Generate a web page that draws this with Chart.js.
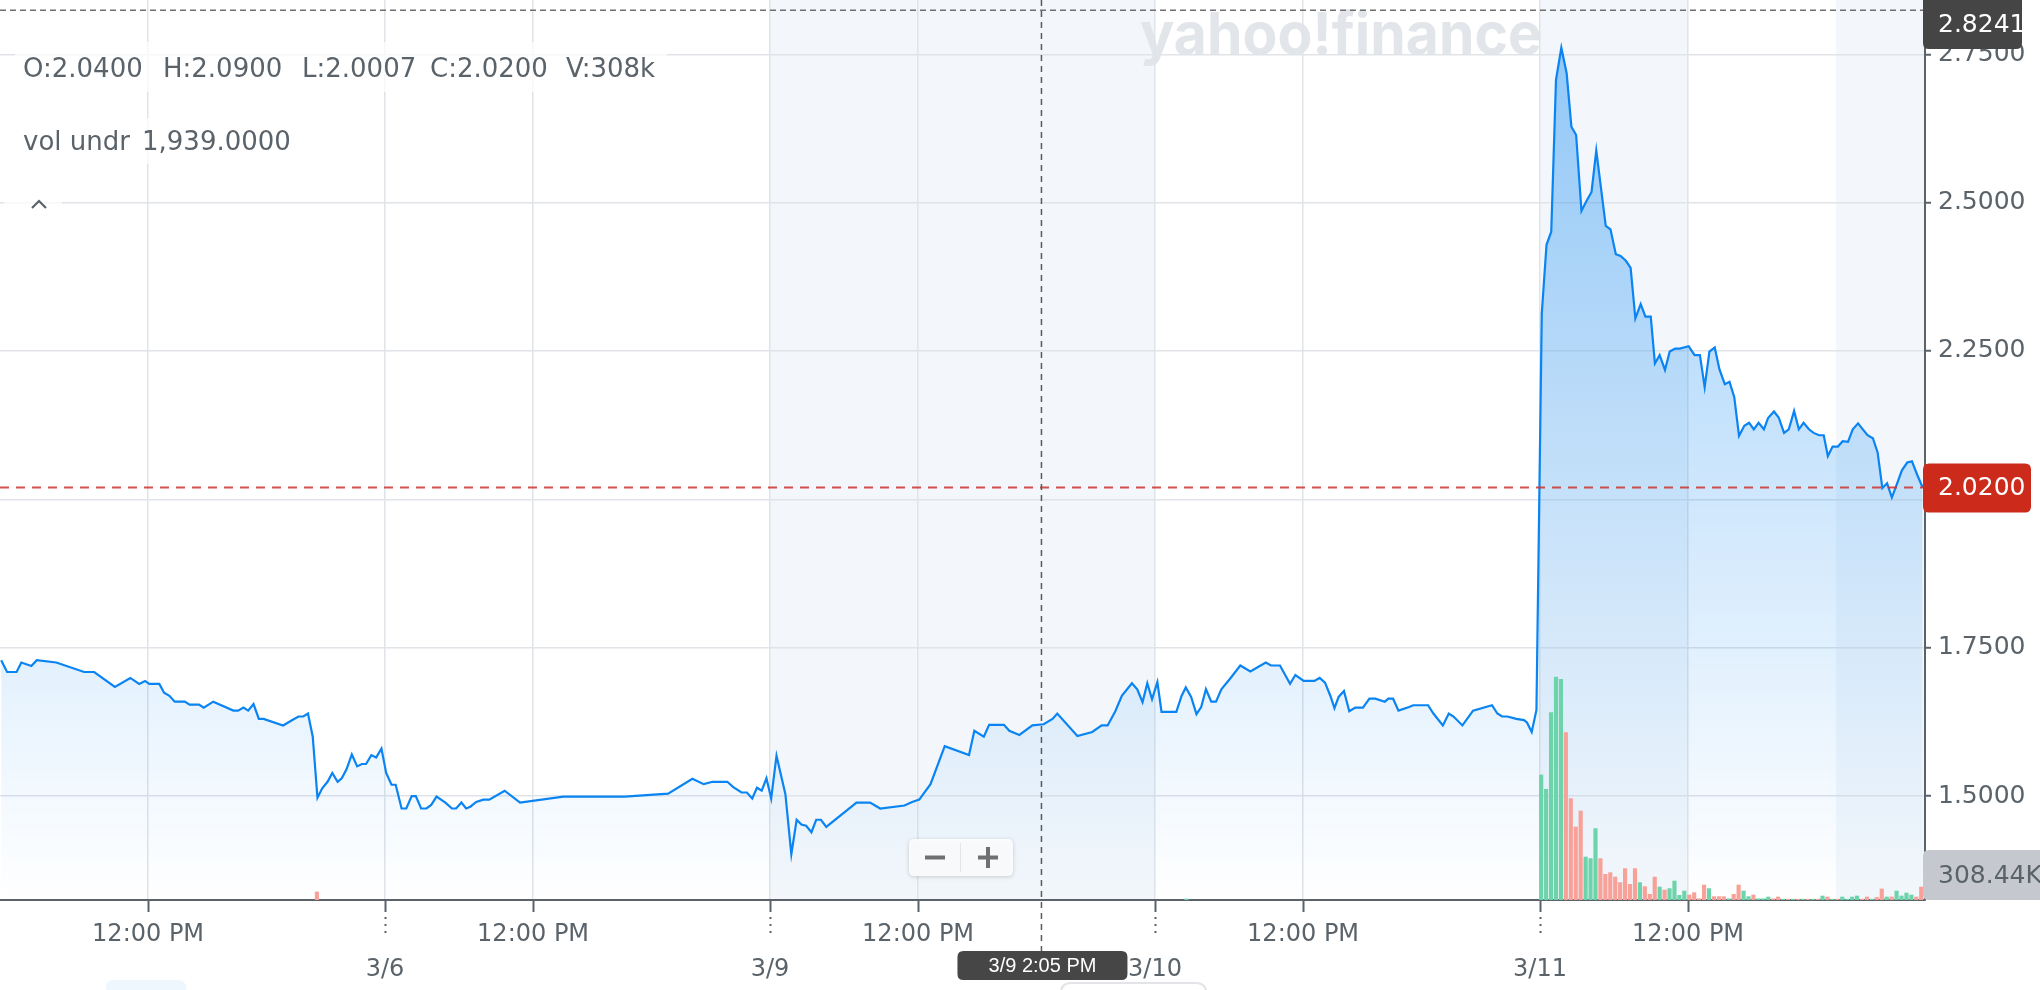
<!DOCTYPE html>
<html>
<head>
<meta charset="utf-8">
<title>Intraday price chart</title>
<script src="https://cdn.jsdelivr.net/npm/chart.js@4.4.1/dist/chart.umd.min.js"></script>
<style>
  html, body { margin: 0; padding: 0; background: #fff; }
  #wrap { width: 2040px; height: 990px; }
</style>
</head>
<body>
<div id="wrap"><canvas id="chart" width="2040" height="990"></canvas></div>
<script>
// Time axis = trading hours since the 3/5 open (9:30 -> 16:00 = 6.5h per day)

// Price line (hours, price)
const priceHours = [
  0.02, 0.12, 0.28, 0.36, 0.53, 0.62, 0.95, 1.42, 1.59, 1.94,
  2.20, 2.35, 2.45, 2.52, 2.69, 2.77, 2.86, 2.95, 3.12, 3.20,
  3.36, 3.44, 3.60, 3.94, 4.02, 4.11, 4.19, 4.28, 4.37, 4.45,
  4.78, 4.95, 5.04, 5.12, 5.20, 5.28, 5.36, 5.44, 5.53, 5.61,
  5.70, 5.77, 5.85, 5.94, 6.03, 6.11, 6.18, 6.27, 6.35, 6.44,
  6.52, 6.61, 6.68, 6.78, 6.86, 6.95, 7.02, 7.11, 7.20, 7.28,
  7.37, 7.52, 7.63, 7.70, 7.79, 7.87, 7.94, 8.04, 8.16, 8.26,
  8.52, 8.78, 9.51, 10.55, 11.28, 11.69, 11.88, 12.03, 12.28, 12.38,
  12.52, 12.61, 12.70, 12.78, 12.86, 12.94, 13.02, 13.11, 13.26, 13.36,
  13.45, 13.53, 13.61, 13.70, 13.78, 13.86, 13.95, 14.46, 14.69, 14.86,
  15.27, 15.40, 15.52, 15.71, 15.95, 16.36, 16.45, 16.61, 16.70, 16.95,
  17.04, 17.21, 17.43, 17.62, 17.77, 17.85, 18.19, 18.44, 18.60, 18.70,
  18.83, 18.94, 19.11, 19.20, 19.29, 19.37, 19.45, 19.54, 19.61, 19.86,
  19.95, 20.02, 20.11, 20.20, 20.28, 20.36, 20.45, 20.53, 20.62, 20.77,
  20.94, 21.11, 21.37, 21.46, 21.61, 21.78, 21.87, 22.01, 22.19, 22.28,
  22.37, 22.46, 22.53, 22.60, 22.69, 22.78, 22.88, 23.01, 23.12, 23.22,
  23.38, 23.44, 23.52, 23.61, 23.79, 23.86, 24.11, 24.20, 24.36, 24.46,
  24.54, 24.69, 24.87, 25.19, 25.28, 25.36, 25.45, 25.60, 25.73, 25.78,
  25.86, 25.94, 26.03, 26.11, 26.19, 26.27, 26.36, 26.45, 26.53, 26.61,
  26.70, 26.78, 26.87, 26.95, 27.11, 27.19, 27.28, 27.36, 27.45, 27.53,
  27.61, 27.70, 27.78, 27.87, 27.94, 28.02, 28.11, 28.19, 28.28, 28.36,
  28.51, 28.61, 28.70, 28.78, 28.86, 28.95, 29.03, 29.12, 29.20, 29.28,
  29.36, 29.45, 29.53, 29.61, 29.69, 29.78, 29.85, 29.95, 30.03, 30.12,
  30.20, 30.29, 30.37, 30.45, 30.54, 30.62, 30.71, 30.79, 30.86, 30.94,
  31.03, 31.11, 31.20, 31.28, 31.37, 31.45, 31.53, 31.62, 31.70, 31.78,
  31.86, 31.94, 32.03, 32.11, 32.20, 32.28, 32.37, 32.46
];
const priceValues = [
  1.729, 1.709, 1.709, 1.725, 1.719, 1.729, 1.725, 1.709, 1.709, 1.684,
  1.699, 1.689, 1.694, 1.689, 1.689, 1.674, 1.669, 1.659, 1.659, 1.654,
  1.654, 1.649, 1.659, 1.644, 1.644, 1.649, 1.644, 1.655, 1.630, 1.630,
  1.619, 1.629, 1.634, 1.634, 1.639, 1.600, 1.497, 1.513, 1.524, 1.539,
  1.524, 1.530, 1.545, 1.570, 1.550, 1.554, 1.554, 1.569, 1.565, 1.580,
  1.539, 1.519, 1.519, 1.479, 1.479, 1.500, 1.500, 1.479, 1.479, 1.485,
  1.499, 1.489, 1.479, 1.479, 1.489, 1.479, 1.482, 1.490, 1.494, 1.494,
  1.509, 1.489, 1.499, 1.499, 1.504, 1.529, 1.520, 1.524, 1.524, 1.515,
  1.506, 1.506, 1.496, 1.514, 1.509, 1.530, 1.496, 1.568, 1.503, 1.402,
  1.460, 1.452, 1.450, 1.439, 1.460, 1.460, 1.448, 1.489, 1.489, 1.479,
  1.484, 1.490, 1.494, 1.520, 1.584, 1.569, 1.610, 1.600, 1.620, 1.620,
  1.610, 1.603, 1.619, 1.621, 1.630, 1.639, 1.601, 1.608, 1.619, 1.619,
  1.643, 1.669, 1.690, 1.680, 1.658, 1.690, 1.663, 1.692, 1.642, 1.642,
  1.669, 1.683, 1.667, 1.638, 1.650, 1.680, 1.659, 1.659, 1.680, 1.698,
  1.720, 1.710, 1.725, 1.720, 1.720, 1.689, 1.704, 1.694, 1.694, 1.699,
  1.691, 1.669, 1.648, 1.667, 1.677, 1.643, 1.649, 1.649, 1.664, 1.664,
  1.659, 1.664, 1.664, 1.644, 1.650, 1.653, 1.653, 1.639, 1.619, 1.639,
  1.634, 1.619, 1.644, 1.653, 1.639, 1.634, 1.634, 1.630, 1.628, 1.624,
  1.608, 1.645, 2.313, 2.429, 2.451, 2.707, 2.761, 2.718, 2.628, 2.614,
  2.486, 2.502, 2.518, 2.588, 2.461, 2.455, 2.413, 2.410, 2.402, 2.390,
  2.305, 2.329, 2.308, 2.308, 2.229, 2.243, 2.218, 2.249, 2.254, 2.254,
  2.258, 2.243, 2.243, 2.189, 2.249, 2.256, 2.219, 2.194, 2.198, 2.172,
  2.107, 2.124, 2.129, 2.118, 2.129, 2.118, 2.137, 2.148, 2.138, 2.112,
  2.118, 2.149, 2.118, 2.129, 2.118, 2.112, 2.108, 2.108, 2.073, 2.089,
  2.089, 2.098, 2.097, 2.118, 2.128, 2.118, 2.108, 2.103, 2.079, 2.019,
  2.027, 2.003, 2.027, 2.049, 2.062, 2.064, 2.041, 2.020
];

// Volume of the 3/11 session, 5-minute bars, in thousands
const vol311Start = 26.02;
const vol311 = [
  2963, 2624, 4441, 5285, 5231, 3967, 2403, 1730, 2109, 1019,
  981, 1692, 981, 609, 649, 545, 412, 744, 372, 744,
  412, 318, 135, 545, 308, 237, 270, 450, 111, 213,
  119, 175, 30, 356, 270, 80, 80, 80, 30, 135,
  356, 213, 80, 119, 30, 30, 71, 30, 71, 20,
  20, 20, 20, 20, 20, 20, 20, 95, 71, 20,
  20, 71, 20, 71, 95, 20, 71, 20, 60, 261,
  71, 71, 213, 95, 166, 118, 71, 308
];
const vol311Up = [
  1, 1, 1, 1, 1, 0, 0, 0, 0, 1,
  1, 1, 0, 0, 0, 0, 0, 0, 0, 0,
  1, 0, 0, 0, 1, 0, 1, 1, 1, 1,
  0, 0, 0, 0, 1, 0, 0, 0, 1, 0,
  0, 1, 1, 0, 1, 1, 1, 0, 0, 1,
  0, 1, 0, 1, 0, 1, 0, 1, 0, 1,
  0, 1, 1, 1, 1, 0, 0, 1, 0, 0,
  1, 0, 1, 1, 1, 1, 0, 0
];
const otherVolHours = [5.35, 20.03];
const otherVol = [190, 25];
const otherVolUp = [0, 1];

// Axes
const xTickHours = [2.5, 6.5, 9, 13, 15.5, 19.5, 22, 26, 28.5];
const xTickLabels = ['12:00 PM', '3/6', '12:00 PM', '3/9', '12:00 PM', '3/10', '12:00 PM', '3/11', '12:00 PM'];
const yTickValues = [1.5, 1.75, 2.0, 2.25, 2.5, 2.75];

// Shaded sessions (hours)
const shadeFrom = [13, 26, 31];
const shadeTo = [19.5, 28.5, 32.5];

// Header values
const ohlcLabels = ['O:2.0400', 'H:2.0900', 'L:2.0007', 'C:2.0200', 'V:308k'];
const underlyingText = ['vol undr', '1,939.0000'];
const rangeHigh = 2.8241;
const lastPrice = 2.02;
const lastVolumeLabel = '308.44K';
const crosshairHour = 17.583;
const crosshairLabel = '3/9 2:05 PM';

const FONT = '"DejaVu Sans", sans-serif';
const TEXT_GRAY = '#5b636a';

// Volume datasets
const volPoints = [];
const volColors = [];
vol311.forEach((v, i) => {
  volPoints.push({ x: vol311Start + i / 12, y: v });
  volColors.push(vol311Up[i] ? '#6cd3ab' : '#f7a199');
});
otherVolHours.forEach((h, i) => {
  volPoints.push({ x: h, y: otherVol[i] });
  volColors.push(otherVolUp[i] ? '#6cd3ab' : '#f7a199');
});

const pricePoints = priceHours.map((h, i) => ({ x: h, y: priceValues[i] }));

function roundBox(ctx, x, y, w, h, r) {
  ctx.beginPath();
  ctx.moveTo(x + r, y);
  ctx.lineTo(x + w - r, y);
  ctx.quadraticCurveTo(x + w, y, x + w, y + r);
  ctx.lineTo(x + w, y + h - r);
  ctx.quadraticCurveTo(x + w, y + h, x + w - r, y + h);
  ctx.lineTo(x + r, y + h);
  ctx.quadraticCurveTo(x, y + h, x, y + h - r);
  ctx.lineTo(x, y + r);
  ctx.quadraticCurveTo(x, y, x + r, y);
  ctx.closePath();
}

function strokeLine(ctx, x0, y0, x1, y1, color, width, dash) {
  ctx.save();
  ctx.strokeStyle = color;
  ctx.lineWidth = width;
  ctx.setLineDash(dash || []);
  ctx.beginPath();
  ctx.moveTo(x0, y0);
  ctx.lineTo(x1, y1);
  ctx.stroke();
  ctx.restore();
}

// no label padding: the plot must touch the top edge
function noPadding(scale) {
  scale.paddingTop = 0;
  scale.paddingBottom = 0;
  scale.paddingLeft = 0;
  scale.paddingRight = 0;
}

// Fond : sessions grisées + filigrane
const backdrop = {
  id: 'backdrop',
  beforeDraw(chart) {
    const { ctx, chartArea: a, scales: { x } } = chart;
    ctx.save();
    ctx.fillStyle = '#f3f7fb';
    shadeFrom.forEach((h, i) => {
      const x0 = x.getPixelForValue(h);
      const x1 = x.getPixelForValue(shadeTo[i]);
      ctx.fillRect(x0, a.top, x1 - x0, a.bottom - a.top);
    });

    // watermark
    ctx.font = 'bold 58px Inter, sans-serif';
    ctx.fillStyle = '#e2e5e9';
    ctx.textBaseline = 'alphabetic';
    const wm = 'yahoo!finance';
    const w = ctx.measureText(wm).width;
    ctx.translate(1140, 54);
    ctx.scale(402 / w, 1);
    ctx.fillText(wm, 0, 0);
    ctx.restore();
  }
};

// Surcouche : lignes de prix, étiquettes, réticule
const overlay = {
  id: 'overlay',
  afterDraw(chart) {
    const { ctx, chartArea: a, scales: { x, y } } = chart;
    ctx.save();

    // price reference lines
    const yHigh = y.getPixelForValue(rangeHigh);
    strokeLine(ctx, a.left, yHigh, a.right, yHigh, '#6f6f6f', 1.5, [6, 4]);
    const yLast = y.getPixelForValue(lastPrice);
    strokeLine(ctx, a.left, yLast, a.right, yLast, 'rgba(205,50,45,0.85)', 2, [9, 7]);

    // crosshair
    const xc = x.getPixelForValue(crosshairHour);
    strokeLine(ctx, xc, a.top, xc, a.bottom + 51, '#555b60', 1.5, [6, 5]);

    // x tick marks
    xTickHours.forEach((h, i) => {
      const px = Math.round(x.getPixelForValue(h)) + 0.5;
      strokeLine(ctx, px, a.bottom, px, a.bottom + 12, TEXT_GRAY, 2);
      if (xTickLabels[i].indexOf('/') > 0) {
        strokeLine(ctx, px, a.bottom + 17, px, a.bottom + 38, TEXT_GRAY, 2, [2, 5]);
      }
    });

    // header text with soft white backing
    ctx.fillStyle = 'rgba(255,255,255,0.75)';
    ctx.fillRect(15, 42, 652, 50);
    ctx.fillRect(15, 118, 302, 46);
    ctx.fillRect(4, 186, 58, 34);

    ctx.fillStyle = TEXT_GRAY;
    ctx.textBaseline = 'alphabetic';
    ctx.textAlign = 'left';
    ctx.font = '26px ' + FONT;
    const ohlcX = [23, 163, 302, 430, 566];
    ohlcLabels.forEach((t, i) => ctx.fillText(t, ohlcX[i], 77));
    ctx.fillText(underlyingText[0], 23, 150);
    ctx.fillText(underlyingText[1], 142, 150);

    ctx.strokeStyle = TEXT_GRAY;
    ctx.lineWidth = 2.2;
    ctx.beginPath();
    ctx.moveTo(32, 208);
    ctx.lineTo(39, 201);
    ctx.lineTo(46, 208);
    ctx.stroke();

    // right-side value boxes
    const bx = a.right - 2;
    ctx.font = '25px ' + FONT;
    ctx.textBaseline = 'middle';

    const top = Math.max(0, yHigh - 24);
    ctx.fillStyle = '#454545';
    roundBox(ctx, bx, top - 6, 99, 55, 6);
    ctx.fill();
    ctx.fillStyle = '#ffffff';
    ctx.fillText(rangeHigh.toFixed(4), bx + 15, top + 25);

    ctx.fillStyle = '#cc2a1b';
    roundBox(ctx, bx, yLast - 24, 108, 49, 6);
    ctx.fill();
    ctx.fillStyle = '#ffffff';
    ctx.fillText(lastPrice.toFixed(4), bx + 15, yLast + 1);

    ctx.fillStyle = '#c5c9cf';
    roundBox(ctx, bx, a.bottom - 50, 130, 50, 6);
    ctx.fill();
    ctx.fillStyle = TEXT_GRAY;
    ctx.fillText(lastVolumeLabel, bx + 15, a.bottom - 24);

    // crosshair time label
    ctx.fillStyle = '#464646';
    roundBox(ctx, xc - 84, a.bottom + 51, 170, 29, 6);
    ctx.fill();
    ctx.fillStyle = '#ffffff';
    ctx.textAlign = 'center';
    ctx.font = '20px "Liberation Sans", Arial, sans-serif';
    ctx.fillText(crosshairLabel, xc + 1, a.bottom + 66);

    // zoom control
    ctx.save();
    ctx.shadowColor = 'rgba(0,0,0,0.18)';
    ctx.shadowBlur = 4;
    ctx.shadowOffsetY = 1;
    ctx.fillStyle = 'rgba(250,251,252,0.96)';
    roundBox(ctx, 909, 839, 104, 37, 5);
    ctx.fill();
    ctx.restore();
    strokeLine(ctx, 960.5, 843, 960.5, 872, '#e3e5e8', 1);
    strokeLine(ctx, 925, 857.5, 945, 857.5, '#707070', 4);
    strokeLine(ctx, 978, 857.5, 998, 857.5, '#707070', 4);
    strokeLine(ctx, 988, 847, 988, 868, '#707070', 4);

    // partial controls at the bottom edge
    ctx.fillStyle = '#eef6fe';
    roundBox(ctx, 106, 980, 80, 24, 8);
    ctx.fill();
    ctx.strokeStyle = '#e2e4e8';
    ctx.lineWidth = 2;
    roundBox(ctx, 1061, 983, 145, 24, 10);
    ctx.stroke();

    ctx.restore();
  }
};

const ctx = document.getElementById('chart').getContext('2d');
new Chart(ctx, {
  type: 'line',
  data: {
    datasets: [
      {
        type: 'bar',
        label: 'Volume',
        data: volPoints,
        xAxisID: 'x',
        yAxisID: 'yVol',
        backgroundColor: volColors,
        borderWidth: 0,
        barThickness: 3.5,
        order: 1
      },
      {
        type: 'line',
        label: 'Prix',
        data: pricePoints,
        xAxisID: 'x',
        yAxisID: 'y',
        borderColor: '#0a84f2',
        borderWidth: 2.2,
        pointRadius: 0,
        tension: 0,
        fill: 'start',
        backgroundColor: function (context) {
          const area = context.chart.chartArea;
          if (!area) return 'rgba(0,129,242,0.1)';
          const g = context.chart.ctx.createLinearGradient(0, area.top, 0, area.bottom);
          g.addColorStop(0, 'rgba(0,129,242,0.42)');
          g.addColorStop(1, 'rgba(0,129,242,0.0)');
          return g;
        },
        order: 2
      }
    ]
  },
  options: {
    responsive: false,
    devicePixelRatio: 1,
    animation: false,
    events: [],
    layout: { padding: 0 },
    plugins: {
      legend: { display: false },
      tooltip: { enabled: false }
    },
    scales: {
      x: {
        type: 'linear',
        min: 0,
        max: 32.5,
        offset: false,
        afterBuildTicks: scale => { scale.ticks = xTickHours.map(v => ({ value: v })); },
        afterFit: scale => { scale.height = 90; noPadding(scale); },
        grid: { color: '#e0e3e8', lineWidth: 1.5, drawTicks: false, offset: false },
        border: { display: true, color: TEXT_GRAY, width: 2 },
        ticks: {
          autoSkip: false,
          maxRotation: 0,
          padding: 17,
          color: TEXT_GRAY,
          font: { family: FONT, size: 24, lineHeight: 1.46 },
          callback: (value, index) => {
            const label = xTickLabels[index];
            return label.indexOf('/') > 0 ? ['', label] : label;
          }
        }
      },
      y: {
        type: 'linear',
        position: 'right',
        min: 1.3248,
        max: 2.8415,
        afterBuildTicks: scale => { scale.ticks = yTickValues.map(v => ({ value: v })); },
        afterFit: scale => { scale.width = 115; noPadding(scale); },
        grid: { color: '#e0e3e8', lineWidth: 1.5, drawTicks: true, tickLength: 6, tickColor: TEXT_GRAY, tickWidth: 2 },
        border: { display: true, color: TEXT_GRAY, width: 2 },
        ticks: {
          padding: 7,
          color: TEXT_GRAY,
          font: { family: FONT, size: 25 },
          callback: value => Number(value).toFixed(4)
        }
      },
      yVol: {
        type: 'linear',
        display: false,
        min: 0,
        max: 21330
      }
    }
  },
  plugins: [backdrop, overlay]
});
</script>
</body>
</html>
